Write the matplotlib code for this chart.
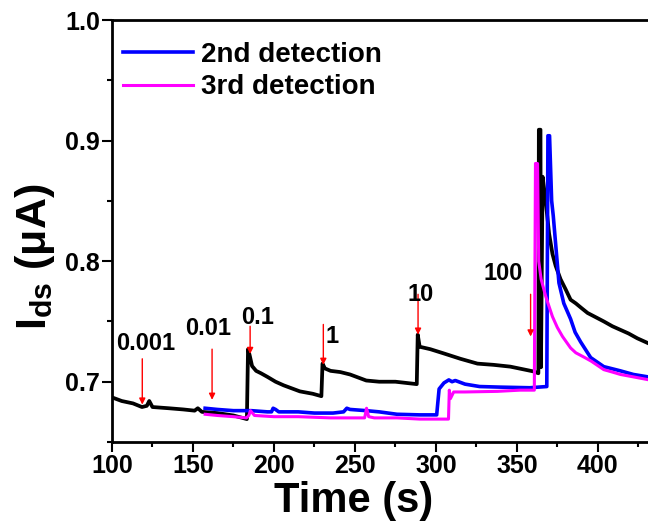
import matplotlib
matplotlib.use("Agg")
import matplotlib.pyplot as plt
from matplotlib.ticker import MultipleLocator

# ── Fonts ────────────────────────────────────────────────────────
plt.rcParams["font.family"] = ["Liberation Sans", "DejaVu Sans"]
plt.rcParams["font.weight"] = "bold"
plt.rcParams["mathtext.fontset"] = "custom"
plt.rcParams["mathtext.rm"] = "Liberation Sans:bold"
plt.rcParams["mathtext.it"] = "Liberation Sans:bold"
plt.rcParams["mathtext.bf"] = "Liberation Sans:bold"

# ── Data ─────────────────────────────────────────────────────────
# 1st detection (black, not in legend)
t_first = [100, 106, 113, 118.5, 121.5, 123, 125, 135, 144, 151, 153, 155.5,
           165, 175, 183.3, 184, 185, 186.5, 189, 192, 196, 201, 206, 216,
           224, 229.3, 230, 231.5, 235, 241, 247, 257, 265, 275, 288.2, 288.8,
           290, 296.5, 304.8, 315.2, 325.7, 335.6, 346, 355, 360.4, 363.3,
           363.6, 364.6, 364.9, 365.9, 367.8, 369.9, 372, 374, 377, 380,
           383.2, 386.4, 390, 393.7, 398, 403.7, 409, 414, 419, 424.4, 431]
i_first = [0.687, 0.684, 0.682, 0.679, 0.680, 0.684, 0.679, 0.678, 0.677,
           0.676, 0.678, 0.675, 0.674, 0.672, 0.669, 0.727, 0.722, 0.713,
           0.709, 0.707, 0.704, 0.700, 0.697, 0.692, 0.690, 0.688, 0.715,
           0.711, 0.709, 0.708, 0.706, 0.701, 0.700, 0.700, 0.698, 0.739,
           0.729, 0.727, 0.7235, 0.719, 0.715, 0.714, 0.7125, 0.710, 0.7085,
           0.707, 0.909, 0.909, 0.712, 0.870, 0.850, 0.823, 0.806, 0.796,
           0.785, 0.777, 0.768, 0.765, 0.761, 0.757, 0.754, 0.750, 0.746,
           0.743, 0.740, 0.736, 0.732]

# 2nd detection (blue)
t_second = [157.5, 165, 175, 183, 186, 196, 198.5, 199.5, 201, 203, 215, 225,
            236.5, 243, 245, 247, 257, 265, 276, 290, 300.5, 302, 305, 308,
            310, 312, 318, 327, 340, 358, 368.5, 369.2, 370.2, 371.5, 372.5,
            376, 379, 383.2, 386, 389.4, 395.6, 403.7, 414, 422, 431]
i_second = [0.678, 0.677, 0.676, 0.676, 0.676, 0.675, 0.675, 0.678, 0.677,
            0.675, 0.675, 0.674, 0.674, 0.675, 0.678, 0.677, 0.676, 0.675,
            0.673, 0.6725, 0.6725, 0.694, 0.699, 0.7015, 0.700, 0.701, 0.698,
            0.696, 0.6955, 0.695, 0.696, 0.904, 0.904, 0.85, 0.8375, 0.782,
            0.765, 0.752, 0.741, 0.733, 0.720, 0.7125, 0.709, 0.706, 0.704]

# 3rd detection (magenta)
t_third = [157.5, 165, 175, 183, 184.5, 185.5, 188, 200, 215, 235, 250, 256,
           257.2, 258.5, 262, 276, 290, 305, 307.8, 308.3, 309, 311, 318, 338,
           352, 360.8, 361.5, 362.8, 363.5, 365, 367.8, 370, 372, 375, 378.2,
           383.2, 386.4, 392, 396, 403.7, 409, 414, 422, 431]
i_third = [0.673, 0.672, 0.671, 0.670, 0.672, 0.676, 0.672, 0.671, 0.671,
           0.670, 0.670, 0.670, 0.678, 0.671, 0.670, 0.670, 0.669, 0.669,
           0.669, 0.693, 0.686, 0.6915, 0.6915, 0.692, 0.693, 0.693, 0.881,
           0.881, 0.80, 0.785, 0.771, 0.762, 0.754, 0.745, 0.7375, 0.728,
           0.724, 0.720, 0.717, 0.710, 0.708, 0.706, 0.704, 0.7017]

# injection arrows and concentration labels
conc_labels = ["0.001", "0.01", "0.1", "1", "10", "100"]
arrow_t = [118.7, 161.8, 185.3, 230.5, 289, 358.5]
arrow_top = [0.719, 0.727, 0.746, 0.7475, 0.7725, 0.7725]
arrow_tip = [0.681, 0.685, 0.723, 0.714, 0.739, 0.7375]
label_t = [121, 159.4, 190, 236, 290.8, 341.5]
label_i = [0.732, 0.744, 0.753, 0.7375, 0.772, 0.790]

# ── Figure ───────────────────────────────────────────────────────
fig = plt.figure(figsize=(6.48, 5.22), dpi=100)
ax = fig.add_axes([112 / 648, 80 / 522, 536 / 648, 422 / 522])

ax.plot(t_first, i_first, color="black", lw=2.7, zorder=2)
ax.plot(t_second, i_second, color="#0000ff", lw=2.6, zorder=3,
        label="2nd detection")
ax.plot(t_third, i_third, color="#ff00ff", lw=2.2, zorder=4,
        label="3rd detection")

for lab, x, y0, y1, lx, ly in zip(conc_labels, arrow_t, arrow_top, arrow_tip,
                                  label_t, label_i):
    ax.annotate("", xy=(x, y1), xytext=(x, y0),
                arrowprops=dict(arrowstyle="-|>", color="red", lw=1.0,
                                mutation_scale=9, shrinkA=0, shrinkB=0),
                zorder=5)
    ax.text(lx, ly, lab, ha="center", va="center", fontsize=17,
            fontweight="bold", zorder=6)

ax.set_xlim(100, 431)
ax.set_ylim(0.65, 1.0)
ax.xaxis.set_major_locator(MultipleLocator(50))
ax.xaxis.set_minor_locator(MultipleLocator(25))
ax.yaxis.set_major_locator(MultipleLocator(0.1))
ax.yaxis.set_minor_locator(MultipleLocator(0.05))
ax.yaxis.set_major_formatter(plt.FuncFormatter(lambda v, p: f"{v:.1f}"))

ax.tick_params(which="both", direction="out", width=1.5, top=False,
               right=False)
ax.tick_params(which="major", length=7, labelsize=18, pad=1.5)
ax.tick_params(which="minor", length=3.5)
for lbl in ax.get_xticklabels() + ax.get_yticklabels():
    lbl.set_fontweight("bold")

for side in ["left", "bottom", "top"]:
    ax.spines[side].set_linewidth(2)
ax.spines["right"].set_visible(False)

ax.set_xlabel("Time (s)", fontsize=30, fontweight="bold")
ax.xaxis.set_label_coords(0.45, -0.093)
ax.set_ylabel("I$_{\\mathrm{ds}}$ (μA)", fontsize=31, fontweight="bold")
ax.yaxis.set_label_coords(-0.102, 0.44)

ax.legend(loc="upper left", bbox_to_anchor=(-0.015, 0.995), frameon=False,
          prop={"size": 20, "weight": "bold"}, handlelength=2.5,
          handletextpad=0.3, labelspacing=0.25, borderaxespad=0.3)

fig.savefig("out.png", dpi=100)
